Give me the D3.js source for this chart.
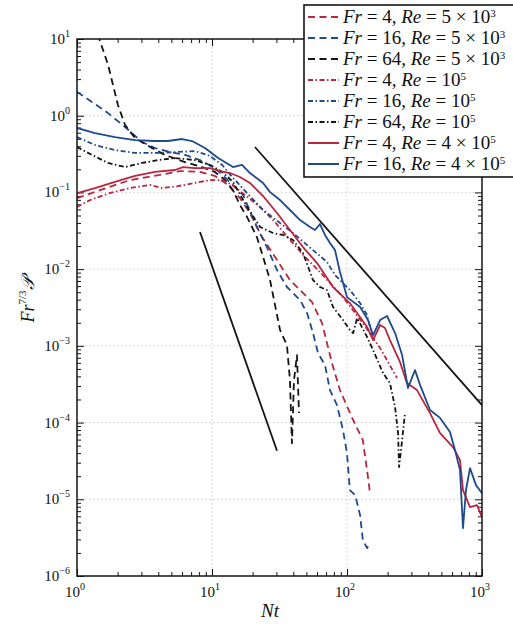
<!DOCTYPE html>
<html>
<head>
<meta charset="utf-8">
<script src="https://cdn.jsdelivr.net/npm/d3@7"></script>
<style>
body { margin: 0; background: #fff; }
svg { display: block; }
text { font-family: "Liberation Serif", "DejaVu Serif", serif; fill: #111; }
</style>
</head>
<body>
<div id="chart"></div>
<script>
// Fr = 4, Re = 5e3
var fr4Re5e3Nt = [1.0, 1.48, 2.47, 4.12, 5.79, 8.15, 10.5, 13.1, 16.1, 19.1, 23.5, 29.3, 37.8, 44.9, 55.1, 65.3, 77.4, 88.7, 111, 131, 143, 148]
var fr4Re5e3P = [0.0845, 0.107, 0.145, 0.169, 0.190, 0.185, 0.164, 0.125, 0.0845, 0.0539, 0.0262, 0.0144, 0.00721, 0.00534, 0.00372, 0.00198, 0.000597, 0.000265, 0.000108, 5.91e-5, 1.95e-5, 1.20e-5]
// Fr = 16, Re = 5e3
var fr16Re5e3Nt = [1.0, 1.29, 1.70, 2.27, 3.03, 3.78, 4.89, 6.31, 8.15, 10.5, 13.1, 17.0, 21.5, 25.5, 30.3, 35.9, 44.9, 50.6, 56.0, 61.0, 68.7, 74.8, 84.3, 93.4, 100, 105, 115, 125, 131, 141, 148]
var fr16Re5e3P = [2.04, 1.51, 1.08, 0.713, 0.454, 0.379, 0.336, 0.308, 0.264, 0.208, 0.145, 0.0925, 0.0354, 0.0194, 0.00973, 0.00585, 0.00395, 0.00268, 0.00147, 0.000805, 0.000562, 0.000265, 0.000169, 7.98e-5, 4.00e-5, 1.32e-5, 1.13e-5, 6.22e-6, 2.94e-6, 2.31e-6, 2.69e-6]
// Fr = 64, Re = 5e3
var fr64Re5e3Nt = [1.15, 1.43, 1.70, 2.01, 2.27, 2.69, 3.59, 4.48, 6.31, 8.43, 10.5, 12.5, 14.3, 16.1, 18.2, 21.5, 23.9, 26.9, 29.3, 31.9, 35.9, 37.8, 39.1, 40.5, 42.6, 44.1]
var fr64Re5e3P = [43.5, 11.3, 4.58, 1.38, 0.757, 0.512, 0.379, 0.308, 0.249, 0.214, 0.185, 0.145, 0.107, 0.0685, 0.0478, 0.0262, 0.0144, 0.00721, 0.00340, 0.00161, 0.00102, 0.000358, 5.40e-5, 0.000358, 0.000759, 0.000133]
// Fr = 4, Re = 1e5
var fr4Re1e5Nt = [1.0, 1.25, 1.75, 2.47, 3.47, 4.26, 5.60, 7.48, 9.67, 11.9, 14.1, 17.6, 22.7, 29.3, 37.8, 48.9, 63.1, 74.8, 93.4, 131, 176, 235]
var fr4Re1e5P = [0.0645, 0.0796, 0.098, 0.114, 0.125, 0.114, 0.121, 0.133, 0.145, 0.145, 0.125, 0.0925, 0.0645, 0.0411, 0.0240, 0.0144, 0.00917, 0.00659, 0.00432, 0.00198, 0.000935, 0.000380]
// Fr = 16, Re = 1e5
var fr16Re1e5Nt = [1.0, 1.36, 1.91, 2.69, 3.98, 5.32, 7.48, 9.67, 11.9, 14.1, 18.2, 23.9, 31.9, 39.8, 56.0, 71.1, 81.5, 105, 125, 141, 153]
var fr16Re1e5P = [0.527, 0.415, 0.357, 0.327, 0.327, 0.336, 0.345, 0.299, 0.228, 0.159, 0.098, 0.0590, 0.0399, 0.0296, 0.0177, 0.0124, 0.00838, 0.00534, 0.00361, 0.00252, 0.00138]
// Fr = 64, Re = 1e5
var fr64Re1e5Nt = [1.0, 1.29, 1.70, 2.27, 3.03, 3.98, 5.32, 7.48, 9.67, 11.9, 14.3, 18.2, 22.7, 28.3, 33.6, 39.8, 47.2, 56.0, 63.1, 71.1, 78.8, 93.4, 105, 111, 119, 141, 156, 185, 208, 227, 239, 243, 256, 269]
var fr64Re1e5P = [0.391, 0.308, 0.242, 0.214, 0.242, 0.264, 0.281, 0.264, 0.228, 0.185, 0.137, 0.0645, 0.0354, 0.0296, 0.0279, 0.0240, 0.0162, 0.00721, 0.00585, 0.00534, 0.00321, 0.00217, 0.00161, 0.00147, 0.00230, 0.00130, 0.000881, 0.000442, 0.000327, 0.000159, 7.29e-5, 2.63e-5, 5.91e-5, 0.000133]
// Fr = 4, Re = 4e5
var fr4Re4e5Nt = [1.0, 1.36, 1.91, 2.69, 3.78, 5.32, 6.10, 7.48, 9.67, 11.5, 13.6, 16.1, 19.1, 23.9, 30.3, 37.8, 47.2, 60.0, 78.8, 105, 141, 156, 176, 191, 208, 247, 278, 330, 412, 489, 610, 687, 723, 815, 918, 1000]
var fr4Re4e5P = [0.098, 0.114, 0.137, 0.164, 0.185, 0.196, 0.214, 0.208, 0.208, 0.190, 0.179, 0.159, 0.133, 0.0897, 0.0539, 0.0324, 0.0194, 0.0120, 0.00585, 0.00361, 0.00176, 0.00119, 0.00187, 0.00171, 0.00119, 0.000615, 0.000327, 0.000265, 0.000133, 7.29e-5, 4.80e-5, 3.24e-5, 1.32e-5, 7.91e-6, 8.40e-6, 5.86e-6]
// Fr = 16, Re = 4e5
var fr16Re4e5Nt = [1.0, 1.36, 1.91, 2.69, 3.78, 4.72, 6.0, 7.11, 8.87, 11.1, 14.3, 16.7, 19.1, 23.9, 26.9, 31.9, 37.8, 44.9, 53.2, 57.9, 63.1, 68.7, 74.8, 81.5, 88.7, 100, 125, 143, 156, 176, 198, 227, 256, 283, 319, 348, 412, 489, 579, 631, 687, 723, 761, 815, 903, 1000]
var fr16Re4e5P = [0.692, 0.595, 0.527, 0.482, 0.468, 0.468, 0.497, 0.468, 0.379, 0.281, 0.214, 0.228, 0.179, 0.133, 0.101, 0.0796, 0.0590, 0.0436, 0.0354, 0.0324, 0.0387, 0.0279, 0.0219, 0.0177, 0.00917, 0.00432, 0.00321, 0.00217, 0.00138, 0.00217, 0.00245, 0.00147, 0.000759, 0.000282, 0.000483, 0.000308, 0.000146, 0.000115, 7.52e-5, 4.38e-5, 2.41e-5, 4.21e-6, 1.32e-5, 2.55e-5, 1.53e-5, 1.20e-5]

// reference slopes
var slope2Nt = [20.8, 1000]
var slope2P = [0.391, 1.69e-4]
var slope5Nt = [8.15, 30.3]
var slope5P = [0.0305, 4.3e-5]

var legendFr = ['4', '16', '64', '4', '16', '64', '4', '16']
var legendReBase = ['5 \u00d7 10', '5 \u00d7 10', '5 \u00d7 10', '10', '10', '10', '4 \u00d7 10', '4 \u00d7 10']
var legendReExp = ['3', '3', '3', '5', '5', '5', '5', '5']

var xTickExp = [0, 1, 2, 3]
var yTickExp = [1, 0, -1, -2, -3, -4, -5, -6]

var red = '#b8263f', blue = '#1f4a8c', black = '#141414'
var dashed = '7,4.5', dashDot = '5,2.5,1.5,2.5'

var series = [
	{nt: fr4Re5e3Nt, p: fr4Re5e3P, color: red, dash: dashed},
	{nt: fr16Re5e3Nt, p: fr16Re5e3P, color: blue, dash: dashed},
	{nt: fr64Re5e3Nt, p: fr64Re5e3P, color: black, dash: dashed},
	{nt: fr4Re1e5Nt, p: fr4Re1e5P, color: red, dash: dashDot},
	{nt: fr16Re1e5Nt, p: fr16Re1e5P, color: blue, dash: dashDot},
	{nt: fr64Re1e5Nt, p: fr64Re1e5P, color: black, dash: dashDot},
	{nt: fr4Re4e5Nt, p: fr4Re4e5P, color: red, dash: null},
	{nt: fr16Re4e5Nt, p: fr16Re4e5P, color: blue, dash: null}
]

var W = 513, H = 628
var mLeft = 77, mRight = 482, mTop = 39, mBottom = 576

var svg = d3.select('#chart').append('svg').attr('width', W).attr('height', H)

var x = d3.scaleLog().domain([1, 1000]).range([mLeft, mRight])
var y = d3.scaleLog().domain([1e-6, 10]).range([mBottom, mTop])

// grid
var gridX = [10, 100]
var gridY = yTickExp.slice(1, -1).map(function(e) { return Math.pow(10, e) })
svg.append('g').selectAll('line').data(gridX).enter().append('line')
	.attr('x1', function(d) { return x(d) }).attr('x2', function(d) { return x(d) })
	.attr('y1', mTop).attr('y2', mBottom)
	.attr('stroke', '#c8c8c8').attr('stroke-width', 0.9).attr('stroke-dasharray', '1.5,2.5')
svg.append('g').selectAll('line').data(gridY).enter().append('line')
	.attr('y1', function(d) { return y(d) }).attr('y2', function(d) { return y(d) })
	.attr('x1', mLeft).attr('x2', mRight)
	.attr('stroke', '#c8c8c8').attr('stroke-width', 0.9).attr('stroke-dasharray', '1.5,2.5')

// ticks
function minors(lo, hi) {
	var out = []
	for (var e = lo; e < hi; e++) for (var k = 2; k <= 9; k++) out.push(k * Math.pow(10, e))
	return out
}
var xMaj = xTickExp.map(function(e) { return Math.pow(10, e) })
var yMaj = yTickExp.map(function(e) { return Math.pow(10, e) })

function addAxis(axis, tx, ty) {
	var g = svg.append('g').attr('transform', 'translate(' + tx + ',' + ty + ')').call(axis)
	g.select('.domain').remove()
	g.selectAll('line').attr('stroke', black).attr('stroke-width', 1)
}
addAxis(d3.axisBottom(x).tickValues(xMaj).tickSize(-7).tickFormat(''), 0, mBottom)
addAxis(d3.axisBottom(x).tickValues(minors(0, 3)).tickSize(-4).tickFormat(''), 0, mBottom)
addAxis(d3.axisTop(x).tickValues(xMaj).tickSize(-7).tickFormat(''), 0, mTop)
addAxis(d3.axisTop(x).tickValues(minors(0, 3)).tickSize(-4).tickFormat(''), 0, mTop)
addAxis(d3.axisLeft(y).tickValues(yMaj).tickSize(-7).tickFormat(''), mLeft, 0)
addAxis(d3.axisLeft(y).tickValues(minors(-6, 1)).tickSize(-4).tickFormat(''), mLeft, 0)
addAxis(d3.axisRight(y).tickValues(yMaj).tickSize(-7).tickFormat(''), mRight, 0)
addAxis(d3.axisRight(y).tickValues(minors(-6, 1)).tickSize(-4).tickFormat(''), mRight, 0)

function expText(e) { return e < 0 ? '\u2212' + (-e) : '' + e }

var xl = svg.append('g').selectAll('text').data(xTickExp).enter().append('text')
	.attr('x', function(d) { return x(Math.pow(10, d)) - 2 })
	.attr('y', mBottom + 21)
	.attr('text-anchor', 'middle').attr('font-size', 15)
xl.append('tspan').text('10')
xl.append('tspan').attr('font-size', 10).attr('dy', -7).text(function(d) { return expText(d) })

var yl = svg.append('g').selectAll('text').data(yTickExp).enter().append('text')
	.attr('x', mLeft - 7)
	.attr('y', function(d) { return y(Math.pow(10, d)) + 5 })
	.attr('text-anchor', 'end').attr('font-size', 15)
yl.append('tspan').text('10')
yl.append('tspan').attr('font-size', 10).attr('dy', -7).text(function(d) { return expText(d) })

// curves
svg.append('clipPath').attr('id', 'plotclip').append('rect')
	.attr('x', mLeft).attr('y', mTop).attr('width', mRight - mLeft).attr('height', mBottom - mTop)

var line = d3.line().x(function(d) { return x(d[0]) }).y(function(d) { return y(d[1]) })
var curves = svg.append('g').attr('clip-path', 'url(#plotclip)')
series.forEach(function(s) {
	curves.append('path')
		.datum(d3.zip(s.nt, s.p))
		.attr('d', line)
		.attr('fill', 'none')
		.attr('stroke', s.color)
		.attr('stroke-width', 1.8)
		.attr('stroke-linejoin', 'round')
		.attr('stroke-dasharray', s.dash)
})
curves.append('path').datum(d3.zip(slope2Nt, slope2P)).attr('d', line)
	.attr('fill', 'none').attr('stroke', black).attr('stroke-width', 1.8)
curves.append('path').datum(d3.zip(slope5Nt, slope5P)).attr('d', line)
	.attr('fill', 'none').attr('stroke', black).attr('stroke-width', 1.8)

// frame
svg.append('rect').attr('x', mLeft).attr('y', mTop).attr('width', mRight - mLeft).attr('height', mBottom - mTop)
	.attr('fill', 'none').attr('stroke', black).attr('stroke-width', 1.5)

// axis titles
svg.append('text').attr('x', 270).attr('y', 617).attr('text-anchor', 'middle')
	.attr('font-size', 19).attr('font-style', 'italic').text('Nt')

var yt = svg.append('text').attr('transform', 'translate(34,300) rotate(-90)')
	.attr('text-anchor', 'middle').attr('font-size', 18)
yt.append('tspan').attr('font-style', 'italic').text('Fr')
yt.append('tspan').attr('font-size', 11).attr('dy', -8).text('7/3')
yt.append('tspan').attr('dy', 8).attr('font-style', 'italic').text('\ud835\udcab')

// legend
var lg = svg.append('g')
lg.append('rect').attr('x', 304).attr('y', 5).attr('width', 230).attr('height', 172)
	.attr('fill', '#fff').attr('stroke', black).attr('stroke-width', 1.6)
series.forEach(function(s, i) {
	var cy = 17 + i * 21
	lg.append('line').attr('x1', 308).attr('x2', 339).attr('y1', cy).attr('y2', cy)
		.attr('stroke', s.color).attr('stroke-width', 2).attr('stroke-dasharray', s.dash)
	var t = lg.append('text').attr('x', 343).attr('y', cy + 6).attr('font-size', 19)
	t.append('tspan').attr('font-style', 'italic').text('Fr')
	t.append('tspan').text(' = ' + legendFr[i] + ', ')
	t.append('tspan').attr('font-style', 'italic').text('Re')
	t.append('tspan').text(' = ' + legendReBase[i])
	t.append('tspan').attr('font-size', 11).attr('dy', -6).text(legendReExp[i])
})
</script>
</body>
</html>
